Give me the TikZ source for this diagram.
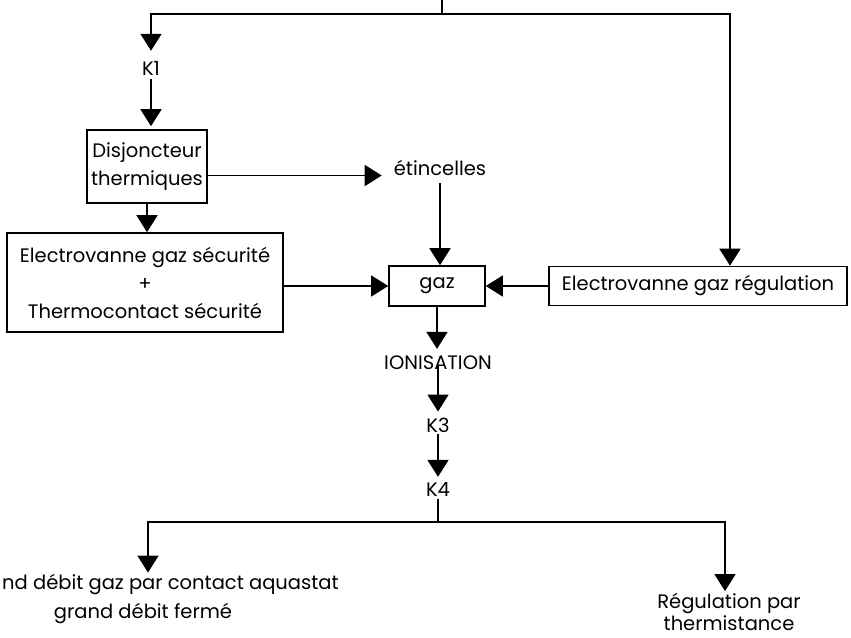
\documentclass[tikz,border=0pt]{standalone}
\usepackage{fontspec}
\setmainfont{Poppins}
\usetikzlibrary{arrows.meta,positioning}
\tikzset{
  lbl/.style={font=\fontsize{19.5}{22}\selectfont, inner sep=2pt, align=center},
  box/.style={lbl, font=\fontsize{19.5}{28}\selectfont, draw, line width=1.6pt, inner sep=0pt},
  line/.style={line width=1.8pt},
  arr/.style={line, -{Triangle[length=17pt,width=21pt]}},
}
\begin{document}
\begin{tikzpicture}[x=1pt,y=-1pt]
  \useasboundingbox (0,0) rectangle (851,637);
  % boxes
  \node[box, minimum width=120, minimum height=73] (disj)  at (147,166.5) {Disjoncteur\\thermiques};
  \node[box, minimum width=276, minimum height=99] (secu)  at (145,282.5) {Electrovanne gaz sécurité\\+\\Thermocontact sécurité};
  \node[box, minimum width=96,  minimum height=40] (gaz)   at (437,286)   {gaz};
  \node[box, minimum width=298, minimum height=39] (regul) at (698,286)   {Electrovanne gaz régulation};
  % labels
  \node[lbl] (K1)    at (151,68)  {K1};
  \node[lbl] (etinc) at (440,168) {étincelles};
  \node[lbl] (ionis) at (438,363) {IONISATION};
  \node[lbl] (K3)    at (438,425) {K3};
  \node[lbl] (K4)    at (438,490) {K4};
  \node[lbl, anchor=west] (aq1) at (0,585)  {nd débit gaz par contact aquastat};
  \node[lbl] (aq2)   at (143,613) {grand débit fermé};
  \node[lbl] (therm) at (729,612) {Régulation par\\thermistance};
  % junctions
  \coordinate (top)    at (442,0);
  \coordinate (split)  at (442,14);
  \coordinate (lc)     at (151,14);
  \coordinate (rc)     at (730,14);
  \coordinate (split2) at (438,522);
  \coordinate (lc2)    at (148,522);
  \coordinate (rc2)    at (725,522);
  % connectors
  \draw[line] (top) -- (split);
  \draw[arr] (split) -- (lc) -- ([yshift=8pt]K1.north);
  \draw[arr] (split) -- (rc) -- (rc |- regul.north);
  \draw[arr, shorten <=2pt, shorten >=3pt] (K1.south) -- (K1.south |- disj.north);
  \draw[arr, shorten >=10pt] ([yshift=-9pt]disj.east) -- ([yshift=-9pt]disj.east -| etinc.west);
  \draw[arr] (disj.south) -- (disj.south |- secu.north);
  \draw[arr, shorten <=5pt] (etinc.south) -- (etinc.south |- gaz.north);
  \draw[arr, line width=1.2pt] (secu.east |- gaz.west) -- (gaz.west);
  \draw[arr, line width=1.2pt] (regul.west) -- (gaz.east);
  \draw[arr, shorten >=5pt] (gaz.south) -- (gaz.south |- ionis.north);
  \draw[arr, shorten <=-6pt, shorten >=4pt] (ionis.south) -- (K3.north);
  \draw[arr, shorten >=4pt] (K3.south) -- (K4.north);
  \draw[line] (K4.south) -- (split2);
  \draw[arr] (split2) -- (lc2) -- (lc2 |- aq1.north);
  \draw[arr] (split2) -- (rc2) -- (rc2 |- therm.north);
\end{tikzpicture}
\end{document}
